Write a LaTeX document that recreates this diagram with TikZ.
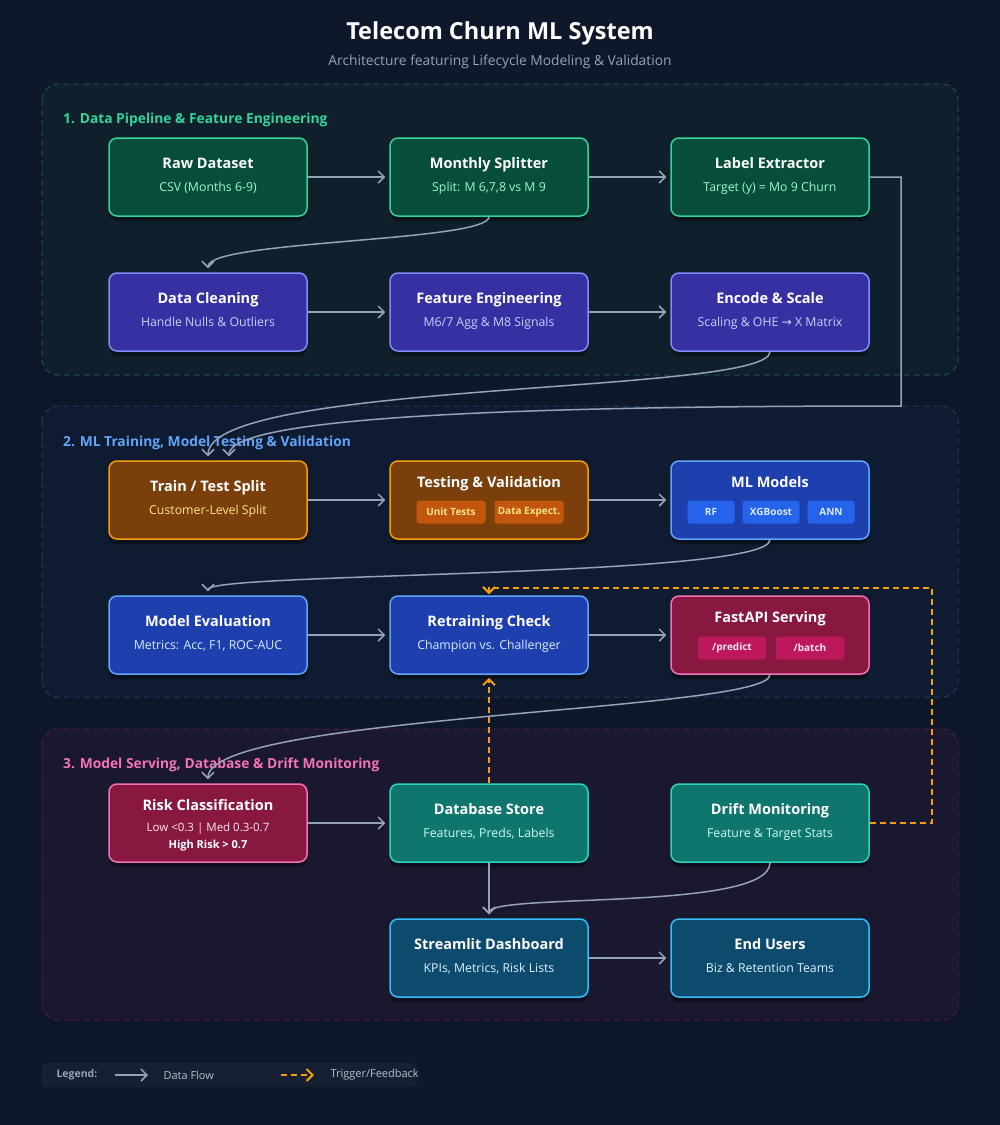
\documentclass[tikz,border=0pt]{standalone}
\usepackage{fontspec}
\setmainfont{Open Sans}
\newfontfamily\symfont{DejaVu Sans}
\usetikzlibrary{arrows.meta,shadows}

% ---- Palette ----
\definecolor{bgCol}{HTML}{0F172A}
\definecolor{subCol}{HTML}{94A3B8}
\definecolor{flowCol}{HTML}{94A3B8}
\definecolor{trigCol}{HTML}{F59E0B}
\definecolor{legF}{HTML}{172033}
% sections
\definecolor{secAF}{HTML}{0F1F2C}\definecolor{secAD}{HTML}{1D4F4A}\definecolor{secAL}{HTML}{34D399}
\definecolor{secBF}{HTML}{0F1B31}\definecolor{secBD}{HTML}{1E3A60}\definecolor{secBL}{HTML}{60A5FA}
\definecolor{secCF}{HTML}{1A182F}\definecolor{secCD}{HTML}{4C1D3D}\definecolor{secCL}{HTML}{F472B6}
% boxes: F fill, D border, T subtitle, C chip
\definecolor{grnF}{HTML}{064E3B}\definecolor{grnD}{HTML}{34D399}\definecolor{grnT}{HTML}{A7F3D0}
\definecolor{indF}{HTML}{3730A3}\definecolor{indD}{HTML}{818CF8}\definecolor{indT}{HTML}{C7D2FE}
\definecolor{orgF}{HTML}{7B3F0C}\definecolor{orgD}{HTML}{F59E0B}\definecolor{orgT}{HTML}{FDE68A}\definecolor{orgC}{HTML}{C2560C}
\definecolor{bluF}{HTML}{1E40AF}\definecolor{bluD}{HTML}{60A5FA}\definecolor{bluT}{HTML}{DBEAFE}\definecolor{bluC}{HTML}{2563EB}
\definecolor{rosF}{HTML}{881840}\definecolor{rosD}{HTML}{F472B6}\definecolor{rosT}{HTML}{FCE7F3}\definecolor{rosC}{HTML}{BE185D}
\definecolor{telF}{HTML}{0F766E}\definecolor{telD}{HTML}{2DD4BF}\definecolor{telT}{HTML}{CCFBF1}
\definecolor{skyF}{HTML}{0C4A6E}\definecolor{skyD}{HTML}{38BDF8}\definecolor{skyT}{HTML}{E0F2FE}

\begin{document}
\begin{tikzpicture}[x=1pt,y=-1pt,
	box/.style={rectangle, rounded corners=8pt, minimum width=198pt, minimum height=78pt,
		line width=1.5pt, drop shadow={shadow xshift=0pt, shadow yshift=-5pt, opacity=0.35, fill=black}},
	boxtitle/.style={anchor=base, inner sep=0pt, text=white, font=\fontsize{14.5}{17}\selectfont\bfseries},
	boxsub/.style={anchor=base, inner sep=0pt, font=\fontsize{12.3}{14}\selectfont},
	chip/.style={rectangle, rounded corners=3pt, minimum height=23pt, inner sep=0pt,
		font=\fontsize{10}{12}\selectfont\bfseries},
	flow/.style={draw=flowCol, line width=1.5pt, shorten >=4pt, -{Straight Barb[length=6pt,width=12pt]}},
	trigger/.style={draw=trigCol, line width=2pt, dash pattern=on 6pt off 4pt, shorten >=3pt,
		-{Straight Barb[length=6pt,width=12pt]}},
	section/.style={rounded corners=16pt, dash pattern=on 6pt off 4pt, line width=1pt},
	seclabel/.style={anchor=west, inner sep=0pt, font=\fontsize{13.8}{16}\selectfont\bfseries}
	]
	
	% ---- Background ----
	\fill[bgCol] (0,0) rectangle (1000,1125);
	
	% ---- Header ----
	\node[text=white, font=\fontsize{23.5}{28}\selectfont\bfseries] (title) at (500,33) {Telecom Churn ML System};
	\node[text=subCol, font=\fontsize{13.8}{16}\selectfont] (subtitle) at (500,62) {Architecture featuring Lifecycle Modeling \& Validation};
	
	% ---- Sections ----
	\foreach \top/\bot/\s in {84/375/A, 406/697/B, 729/1020/C}
	\draw[section, fill=sec\s F, draw=sec\s D] (42,\top) rectangle (958,\bot);
	
	\node[seclabel, text=secAL] (secA) at (63,120) {1. Data Pipeline \& Feature Engineering};
	\node[seclabel, text=secBL] (secB) at (63,443) {2. ML Training, Model Testing \& Validation};
	\node[seclabel, text=secCL] (secC) at (63,765) {3. Model Serving, Database \& Drift Monitoring};
	
	% ---- Plain boxes (title + subtitle) ----
	\foreach \x/\y/\name/\col/\title/\sub in {
		208/177/raw/grn/{Raw Dataset}/{CSV (Months 6-9)},
		489/177/split/grn/{Monthly Splitter}/{Split: M 6,7,8 vs M 9},
		770/177/lbl/grn/{Label Extractor}/{Target (y) = Mo 9 Churn},
		208/312/clean/ind/{Data Cleaning}/{Handle Nulls \& Outliers},
		489/312/feat/ind/{Feature Engineering}/{M6/7 Agg \& M8 Signals},
		770/312/enc/ind/{Encode \& Scale}/{Scaling \& OHE {\symfont →} X Matrix},
		208/500/train/org/{Train / Test Split}/{Customer-Level Split},
		208/635/eval/blu/{Model Evaluation}/{Metrics: Acc, F1, ROC-AUC},
		489/635/retrain/blu/{Retraining Check}/{Champion vs. Challenger},
		489/823/db/tel/{Database Store}/{Features, Preds, Labels},
		770/823/drift/tel/{Drift Monitoring}/{Feature \& Target Stats},
		489/958/stream/sky/{Streamlit Dashboard}/{KPIs, Metrics, Risk Lists},
		770/958/users/sky/{End Users}/{Biz \& Retention Teams}
	}
	{
		\node[box, fill=\col F, draw=\col D] (\name) at (\x,\y) {};
		\node[boxtitle] (\name-t) at ([yshift=9pt]\name.center) {\title};
		\node[boxsub, text=\col T] (\name-s) at ([yshift=-14pt]\name.center) {\sub};
	}
	
	% ---- Boxes with chips ----
	\foreach \x/\y/\name/\col/\title in {
		489/500/test/org/{Testing \& Validation},
		770/500/models/blu/{ML Models},
		770/635/api/ros/{FastAPI Serving}
	}
	{
		\node[box, fill=\col F, draw=\col D] (\name) at (\x,\y) {};
		\node[boxtitle] (\name-t) at ([yshift=13pt]\name.center) {\title};
	}
	
	\foreach \x/\y/\w/\name/\col/\txt in {
		451/512/69/unit/org/{Unit Tests},
		529/512/69/expect/org/{Data Expect.},
		711/512/47/rf/blu/RF,
		771/512/57/xgb/blu/XGBoost,
		831/512/47/ann/blu/ANN,
		732/648/68/predict/ros/{/predict},
		810/648/68/batch/ros/{/batch}
	}
	\node[chip, minimum width=\w pt, fill=\col C, text=\col T] (\name) at (\x,\y) {\txt};
	
	% ---- Risk box (three lines) ----
	\node[box, fill=rosF, draw=rosD] (risk) at (208,823) {};
	\node[boxtitle] (risk-t) at ([yshift=13pt]risk.center) {Risk Classification};
	\node[boxsub, text=rosT, font=\fontsize{11.5}{13}\selectfont] (risk-s) at ([yshift=-8pt]risk.center) {Low <0.3 | Med 0.3-0.7};
	\node[boxsub, text=white, font=\fontsize{11}{13}\selectfont\bfseries] (risk-h) at ([yshift=-25pt]risk.center) {High Risk > 0.7};
	
	% ---- Data flow ----
	\foreach \a/\b in {raw/split, split/lbl, clean/feat, feat/enc, train/test, test/models,
		eval/retrain, retrain/api, risk/db, stream/users}
	\draw[flow] (\a) -- (\b);
	\draw[flow] (db) -- (stream);
	
	\draw[flow] (split.south) .. controls +(0,25) and +(0,-32) .. (clean.north);
	\draw[flow] (enc.south) .. controls +(0,43) and +(0,-80) .. (train.north);
	\coordinate (lblturn) at (901,406);
	\draw[flow] (lbl.east) -| (lblturn) .. controls +(-341,0) and +(0,-46) .. ([xshift=21pt]train.north);
	\draw[flow] (models.south) .. controls +(0,38) and +(0,-23) .. (eval.north);
	\draw[flow] (api.south) .. controls +(0,37) and +(0,-69) .. (risk.north);
	\draw[flow] (drift.south) .. controls +(0,49) and +(0,-26) .. (stream.north);
	
	% ---- Trigger / feedback ----
	\draw[trigger] (db) -- (retrain);
	\coordinate (fbturn) at (932,588);
	\draw[trigger, shorten >=1pt] (drift.east) -| (fbturn) -| (retrain.north);
	
	% ---- Legend ----
	\node[fill=legF, rounded corners=4pt, minimum width=375pt, minimum height=24pt] (legend) at (229.5,1075) {};
	\node[anchor=west, text=subCol, font=\fontsize{10.5}{12}\selectfont\bfseries] (lgtitle) at (53,1075) {Legend:};
	\coordinate (lgflowA) at (115,1075);
	\coordinate (lgflowB) at (148,1075);
	\draw[flow, shorten >=0pt] (lgflowA) -- (lgflowB);
	\node[anchor=west, text=subCol!70!white, font=\fontsize{11}{13}\selectfont] (lgflow) at (160,1075) {Data Flow};
	\coordinate (lgtrigA) at (281,1075);
	\coordinate (lgtrigB) at (314,1075);
	\draw[trigger, shorten >=0pt] (lgtrigA) -- (lgtrigB);
	\node[anchor=west, text=subCol!70!white, font=\fontsize{11}{13}\selectfont] (lgtrig) at (327,1075) {Trigger/Feedback};
	
\end{tikzpicture}
\end{document}
